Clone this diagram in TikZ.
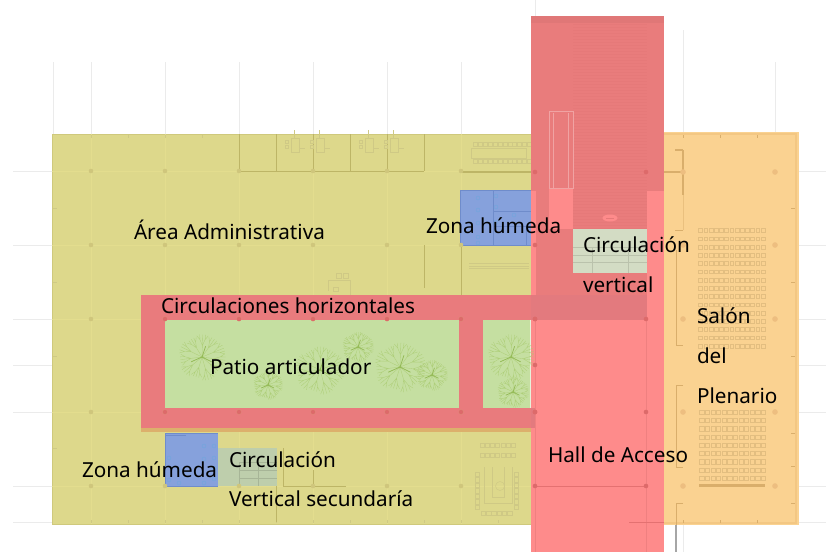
\documentclass[tikz,border=0pt]{standalone}
\usepackage{fontspec}
\setmainfont{Noto Sans}
\tikzset{
  lbl/.style={anchor=base west,inner sep=0pt,outer sep=0pt,font=\fontsize{20.7}{23}\selectfont,text=black},
  wall/.style={draw=#1,line width=1pt},
  wall/.default=wallc,
  thin wall/.style={draw=#1,line width=.45pt},
  thin wall/.default=wallf,
  seat/.style={draw=seatc,line width=.4pt},
  stub/.style={draw=gridc,line width=.6pt},
  twig/.style={draw=treec,line width=.35pt,opacity=.8},
  limb/.style={draw=treed,line width=.8pt,opacity=.85},
}
\definecolor{yel}{HTML}{DDD88B}
\definecolor{yeledge}{HTML}{CFC97C}
\definecolor{ora}{HTML}{FAD291}
\definecolor{oraedge}{HTML}{F3C783}
\definecolor{halllight}{HTML}{FE8B8B}
\definecolor{halldark}{HTML}{E97C7C}
\definecolor{bandc}{HTML}{E97B7D}
\definecolor{bandover}{HTML}{E37A7E}
\definecolor{patio}{HTML}{C5DFA1}
\definecolor{bluez}{HTML}{86A1DC}
\definecolor{blued}{HTML}{6F8CCB}
\definecolor{bluef}{HTML}{6FA7DE}
\definecolor{stairup}{HTML}{D3DCC4}
\definecolor{stairlow}{HTML}{BECEAC}
\definecolor{oxide}{HTML}{DCB06C}
\definecolor{gridc}{HTML}{EBEBEB}
\definecolor{wallc}{HTML}{BDB566}
\definecolor{wallf}{HTML}{CFC985}
\definecolor{seatc}{HTML}{E3BE80}
\definecolor{orawall}{HTML}{D9AE6B}
\definecolor{treec}{HTML}{A9CB70}
\definecolor{treed}{HTML}{8DB54C}
\definecolor{dotyel}{HTML}{CFC67C}
\definecolor{dotred}{HTML}{DD6A6A}
\definecolor{dotora}{HTML}{EDBE80}
\definecolor{gridyel}{HTML}{E3DD8E}
\definecolor{hatchc}{HTML}{E67979}
\newcommand{\treeat}[3]{%
  \foreach \ang/\lenf in {0/1,33/.9,66/1,99/.88,132/1,165/.92,198/1,231/.88,264/.95,297/.92,330/1}{%
    \pgfmathsetmacro{\rr}{#3*\lenf}%
    \draw[twig] (#1,#2) -- ++(\ang+8:\rr*.5) coordinate (tw)
       -- ++(\ang-16:\rr*.28) coordinate (twa) -- ++(\ang-34:\rr*.22)
       (twa) -- ++(\ang+2:\rr*.22)
       (tw) -- ++(\ang+30:\rr*.28) coordinate (twb) -- ++(\ang+46:\rr*.22)
       (twb) -- ++(\ang+14:\rr*.22)
       (tw) -- ++(\ang+8:\rr*.48);
  }%
  \draw[limb] (#1-#3*.45,#2+#3*.2) -- (#1,#2) -- (#1+#3*.4,#2+#3*.2) (#1,#2) -- (#1+#3*.15,#2-#3*.45);
}
\newcommand{\deskat}[2]{%
  \draw[thin wall] (#1,#2) rectangle ++(8,14) (#1+8,#2+10) -- ++(6,0) (#1+3,#2-8) -- ++(0,8)
    (#1-6,#2+2) rectangle ++(3,3) (#1-6,#2+7) rectangle ++(3,3);
}
\begin{document}
\begin{tikzpicture}[x=1pt,y=-1pt]
\useasboundingbox (0,0) rectangle (826,552);
\fill[white] (0,0) rectangle (826,552);
% grid stubs on white
\foreach \c in {53,91,165,239,313,387,461}{\draw[stub] (\c,62) -- (\c,134);}
\draw[stub] (683,30) -- (683,132);
\draw[stub] (775,62) -- (775,132);
\draw[stub] (535,0) -- (535,16);
\foreach \r in {171,245,319,365,412,486,522}{
  \draw[stub] (13,\r) -- (52,\r);
  \draw[stub] (799,\r) -- (826,\r);
}
\draw[stub] (683,525) -- (683,552);
\draw[draw=black!35,line width=1.4pt] (676,525) -- (676,552);
% main zones
\fill[yel] (52,134) rectangle (531,524);
\draw[yeledge,line width=1pt] (52.5,134) rectangle (531,524);
\fill[ora] (664,132) rectangle (799,525);
\draw[oraedge,line width=2pt] (664,134) -- (796,134) -- (796,523) -- (664,523);
% faint grid on yellow and orange
\foreach \c in {91,165,239,313,387,461}{\draw[gridyel,line width=.6pt] (\c,134) -- (\c,524);}
\foreach \r in {171,245,319,412,486}{\draw[gridyel,line width=.6pt] (52,\r) -- (531,\r);}
% ticks
\foreach \c in {91,128,165,202}{\draw[wallf,line width=.7pt] (\c,135) -- (\c,138);}
\foreach \c in {91,128,165,202,239,276,313,350,387,424,461,498}{\draw[wallf,line width=.7pt] (\c,520) -- (\c,523);}
\foreach \r in {208,282,356,448}{\draw[wallf,line width=.7pt] (53,\r) -- (57,\r);}
% admin walls and furniture
\draw[wall] (239,134) -- (239,171) (313,134) -- (313,171) (387,134) -- (387,171);
\draw[wall,line width=.7pt] (276,134) -- (276,171) (350,134) -- (350,171) (424,134) -- (424,171);
\draw[wall,line width=.7pt] (239,171) -- (424,171);
\draw[wall,line width=1.2pt] (461,172) -- (535,172);
\deskat{291}{138}\deskat{316}{138}\deskat{365}{138}\deskat{390}{138}
\draw[thin wall] (328,280) -- (328,291) (328,280) -- (350,280) -- (350,295) (336,273) rectangle (341,278) (343,273) rectangle (348,278) (333,287) rectangle (338,291);
\foreach \s in {0,...,11}{
  \draw[thin wall] (473.5+\s*4.9,142) rectangle ++(4,4.5);
  \draw[thin wall] (473.5+\s*4.9,159) rectangle ++(4,4.5);
}
\draw[thin wall] (471,148) rectangle (526,158);
\draw[wall,line width=.8pt] (424,245) -- (424,288) (461,245) -- (461,295);
\draw[thin wall] (469,263) -- (529,263) (469,266) -- (529,266) (469,268.5) -- (529,268.5);
% lower yellow furniture
\draw[wall,line width=.8pt] (283,448) -- (283,486) -- (346,486) (313,470) -- (313,486) (276,486) -- (276,522);
\foreach \s in {0,...,6}{
  \draw[thin wall] (480+\s*5.2,443) rectangle ++(4,4);
  \draw[thin wall] (480+\s*5.2,453) rectangle ++(4,4);
}
\draw[thin wall] (484,467) -- (484,503) -- (512,503) -- (512,467);
\draw[thin wall] (492,467) -- (492,497) -- (504,497) -- (504,467);
\foreach \s in {0,...,6}{
  \draw[thin wall] (475,472+\s*5.5) rectangle ++(4.5,4.5);
  \draw[thin wall] (514,472+\s*5.5) rectangle ++(4.5,4.5);
}
\foreach \s in {0,...,5}{\draw[thin wall] (481+\s*5.3,511) rectangle ++(4.5,4.5);}
\draw[thin wall] (500,486) circle (4.5);
% salon
\draw[draw=orawall,line width=1.2pt] (664,172) -- (683,172) (683,150) -- (683,195) (675,150) -- (683,150);
\draw[draw=orawall!50!ora,line width=.8pt] (683,195) -- (683,230);
\draw[draw=orawall,line width=1pt] (683,230) -- (675,230);
\draw[draw=orawall,line width=1pt] (676,250) -- (676,345) -- (683,345);
\draw[draw=orawall,line width=1pt] (683,385) -- (676,385) -- (676,467) -- (683,467);
\draw[draw=orawall,line width=1pt] (683,503) -- (676,503) -- (676,525);
\foreach \r in {0,...,14}{\foreach \s in {0,...,12}{
  \draw[seat] (698.5+\s*5.2,228.5+\r*8.25) rectangle ++(3.8,3.8);}}
\foreach \r in {0,...,8}{\foreach \s in {0,...,11}{
  \draw[seat] (699.5+\s*5.6,410+\r*8.25) rectangle ++(4.2,4.2);}}
\draw[draw=orawall,line width=2.2pt] (699,485.5) -- (765,485.5);
\foreach \r in {208,282,356,433,466,503}{\draw[draw=orawall,line width=.7pt] (791,\r) -- (795,\r);}
\foreach \c in {683,720,757}{\draw[draw=orawall,line width=.7pt] (\c,135) -- (\c,138);\draw[draw=orawall,line width=.7pt] (\c,520) -- (\c,523);}
% hall
\fill[halllight] (531,16) rectangle (664,552);
\fill[halldark] (531,16) rectangle (664,191);
\fill[halllight] (549,188) rectangle (573,229);
\fill[halllight] (647,191) rectangle (664,552);
\fill[halldark] (536,229) rectangle (647,295);
\fill[halldark] (536,191) rectangle (549,229);
\fill[halldark] (573,188) rectangle (647,229);
\fill[halllight] (531,191) rectangle (536,295);
\fill[halldark!96!black] (531,16) rectangle (664,23);
\foreach \r in {24,27,...,228}{\draw[hatchc,line width=.3pt] (573,\r) -- (647,\r);}
\draw[draw=halldark!70!white,line width=.8pt] (549.5,111.5) rectangle (573,188) (553,113) -- (553,188) (568,113) -- (568,188);
\fill[halllight] (610,218) ellipse (7.5 and 3.5);
\draw[draw=hatchc,line width=.4pt] (606,218) -- (614,218);
\draw[draw=dotred!80!halllight,line width=.8pt] (535,486) -- (646,486);
\draw[draw=halldark!70!halllight,line width=.4pt] (646,320) -- (646,552) (535,320) -- (535,552);
\draw[draw=dotred!80!halllight,line width=.7pt] (629,522.5) -- (664,522.5);
% stairs
\fill[stairup] (573,229) rectangle (647,273);
\draw[draw=stairup!88!black,line width=.4pt] (573,247) -- (647,247) (592,247) -- (592,273) (628,247) -- (628,273) (573,255) -- (647,255) (573,262) -- (647,262);
\fill[stairlow] (218,448) rectangle (277,486);
\draw[draw=stairlow!88!black,line width=.4pt] (239,470) -- (277,470) (239,478) -- (277,478) (239,462) -- (277,462) (239,462) -- (239,486) (258,462) -- (258,486);
% horizontal circulation
\fill[oxide] (141,420) rectangle (531,432);
\fill[bandc] (141,295) rectangle (531,428);
\fill[bandover] (531,295) rectangle (647,320);
\fill[bandover] (531,408) rectangle (535,428);
\fill[patio] (165,320) rectangle (459,408);
\fill[patio] (483,320) rectangle (531,408);
\fill[white!60!patio] (530,320) rectangle (531,408);
% trees
\treeat{202}{357}{24}
\treeat{268}{385}{15}
\treeat{320}{370}{25}
\treeat{358}{347}{16}
\treeat{400}{367}{26}
\treeat{432}{375}{16}
\treeat{511}{357}{24}
\treeat{513}{392}{16}
% wet zones
\fill[bluez] (460,190) rectangle (531,245);
\draw[blued,line width=.9pt] (460,190) -- (531,190) (460,245) -- (531,245) (460,190) -- (460,245) (493,190) -- (493,245);
\draw[blued,line width=.4pt] (493,211) -- (531,211) (493,226) -- (526,226) -- (526,245);
\foreach \px/\py in {478/198,478/210,478/223,478/237,496/196,496/207,496/222,514/215,478/243}{\draw[bluef,line width=.4pt] (\px,\py) circle (2);}
\fill[bluez] (165,433) rectangle (218,486);
\draw[blued,line width=.9pt] (165,433) -- (218,433) (165,486) -- (218,486) (165,433) -- (165,486);
\draw[blued,line width=1pt] (165,435.5) -- (186,435.5);
\foreach \px/\py in {169/458,179/470,204/446,204/459,214/446,214/458,214/468,169/480,179/483,204/483,214/479}{\draw[bluef,line width=.4pt] (\px,\py) circle (2);}
% column dots
\foreach \r in {171,245,319,412,486}{
  \foreach \c in {91,165,239,313,387,461}{\fill[dotyel] (\c,\r) circle (2.3);}
}
\foreach \c in {165,239,313,387,461,535}{\fill[dotred] (\c,319) circle (2.3);\fill[dotred] (\c,412) circle (2.3);}
\foreach \r in {172,245,319,365,412,486}{\fill[dotred] (535,\r) circle (2.3);}
\foreach \r in {172,319,412,486}{\fill[dotred] (646,\r) circle (2.3);}
\foreach \r in {172,245,319,412,486}{\fill[dotora] (683,\r) circle (2.8);\fill[dotora] (775,\r) circle (2.8);}
% labels
\node[lbl] (area) at (134,239) {Área Administrativa};
\node[lbl] (circh) at (161,313) {Circulaciones horizontales};
\node[lbl] (zona1) at (426,233) {Zona húmeda};
\node[lbl] (circv1) at (583,252) {Circulación};
\node[lbl] (circv2) at (583,292) {vertical};
\node[lbl] (salon1) at (697,323) {Salón};
\node[lbl] (salon2) at (697,363) {del};
\node[lbl] (salon3) at (697,403) {Plenario};
\node[lbl] (hall) at (548,462) {Hall de Acceso};
\node[lbl] (patio) at (210,374) {Patio articulador};
\node[lbl] (zona2) at (82,477) {Zona húmeda};
\node[lbl] (circs1) at (229,467) {Circulación};
\node[lbl] (circs2) at (229,506) {Vertical secundaría};
\end{tikzpicture}
\end{document}
